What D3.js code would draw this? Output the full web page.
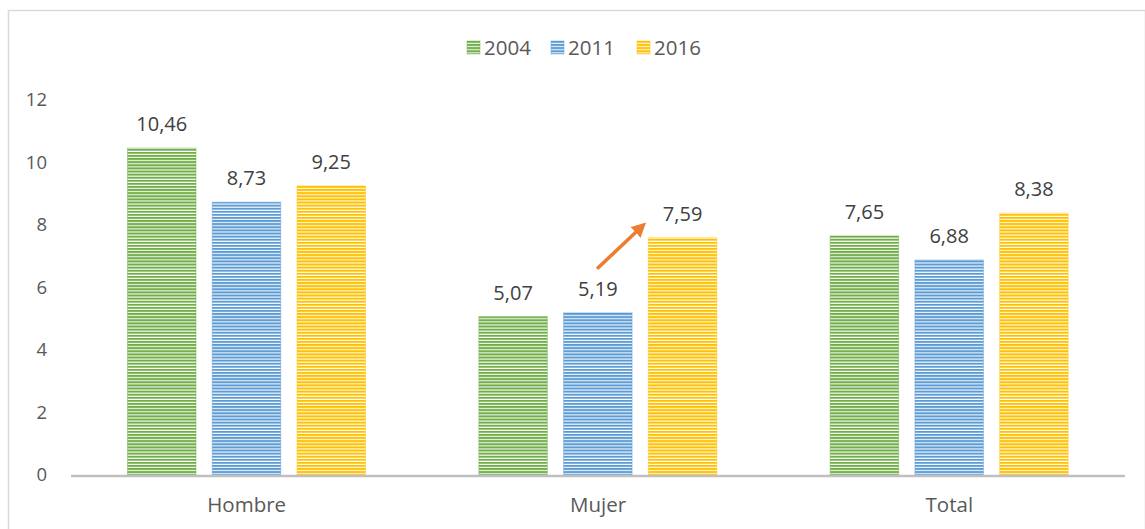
<!DOCTYPE html>
<html>
<head>
<meta charset="utf-8">
<script src="https://cdn.jsdelivr.net/npm/d3@7"></script>
<style>
  body { margin: 0; background: #fff; }
  text { font-family: "Open Sans", sans-serif; }
</style>
</head>
<body>
<div id="chart"></div>
<script>
// data
const categories = ["Hombre", "Mujer", "Total"];
const years = ["2004", "2011", "2016"];
const values2004 = [10.46, 5.07, 7.65];
const values2011 = [8.73, 5.19, 6.88];
const values2016 = [9.25, 7.59, 8.38];
const yTicks = [0, 2, 4, 6, 8, 10, 12];
const colors = ["#70ad47", "#5b9bd5", "#ffc000"];

const series = [values2004, values2011, values2016];

const width = 1145, height = 529;
const margin = { top: 100, right: 20, bottom: 54, left: 71 };

const svg = d3.select("#chart").append("svg")
    .attr("width", width)
    .attr("height", height);

// frame
svg.append("rect")
    .attr("x", 8.5).attr("y", 10.5)
    .attr("width", width - 8).attr("height", height)
    .attr("fill", "none")
    .attr("stroke", "#d9d9d9")
    .attr("stroke-width", 1.5);

// stripe patterns
const defs = svg.append("defs");
colors.forEach(function(c, i) {
    let p = defs.append("pattern")
        .attr("id", "stripe" + i)
        .attr("patternUnits", "userSpaceOnUse")
        .attr("width", 6).attr("height", 3.1);
    p.append("rect").attr("width", 6).attr("height", 3.1).attr("fill", "#fff");
    p.append("rect").attr("width", 6).attr("height", 2).attr("fill", c);
});

const x = d3.scaleBand().domain(categories).range([margin.left, 1125]);
const xInner = d3.scaleBand().domain(years).range([56, 295]).paddingInner(0.18);
const y = d3.scaleLinear().domain([0, 12]).range([475, 100]);

// y labels
svg.append("g").selectAll("text")
    .data(yTicks)
    .enter().append("text")
    .attr("x", 47)
    .attr("y", function(d) { return y(d); })
    .attr("dy", "0.35em")
    .attr("text-anchor", "end")
    .attr("fill", "#595959")
    .style("font-size", "18.5px")
    .text(function(d) { return d; });

// bars
const groups = svg.append("g").selectAll("g")
    .data(categories)
    .enter().append("g")
    .attr("transform", function(d) { return "translate(" + x(d) + ",0)"; });

years.forEach(function(yr, i) {
    groups.append("rect")
        .attr("x", xInner(yr) + 0.5)
        .attr("y", function(d, j) { return y(series[i][j]); })
        .attr("width", xInner.bandwidth() - 1)
        .attr("height", function(d, j) { return y(0) - y(series[i][j]); })
        .attr("fill", "url(#stripe" + i + ")")
        .attr("stroke", colors[i])
        .attr("stroke-opacity", 0.45)
        .attr("stroke-width", 1);

    groups.append("text")
        .attr("x", xInner(yr) + xInner.bandwidth() / 2)
        .attr("y", function(d, j) { return y(series[i][j]) - 17; })
        .attr("text-anchor", "middle")
        .attr("fill", "#404040")
        .style("font-size", "20px")
        .text(function(d, j) { return series[i][j].toFixed(2).replace(".", ","); });
});

// x axis line
svg.append("line")
    .attr("x1", margin.left).attr("x2", 1125)
    .attr("y1", y(0) + 1).attr("y2", y(0) + 1)
    .attr("stroke", "#bfbfbf")
    .attr("stroke-width", 2.5);

svg.append("g").selectAll("text")
    .data(categories)
    .enter().append("text")
    .attr("x", function(d) { return x(d) + x.bandwidth() / 2; })
    .attr("y", 512)
    .attr("text-anchor", "middle")
    .attr("fill", "#595959")
    .style("font-size", "20.5px")
    .text(function(d) { return d; });

// arrow Mujer 2011 -> 2016
defs.append("marker")
    .attr("id", "arrowHead")
    .attr("viewBox", "0 0 10 10")
    .attr("refX", 5).attr("refY", 5)
    .attr("markerWidth", 4).attr("markerHeight", 4)
    .attr("orient", "auto")
    .append("path")
    .attr("d", "M0,0L10,5L0,10z")
    .attr("fill", "#ed7d31");

svg.append("line")
    .attr("x1", x("Mujer") + xInner("2011") + 34)
    .attr("y1", y(6.6))
    .attr("x2", x("Mujer") + xInner("2016") - 7)
    .attr("y2", y(7.92))
    .attr("stroke", "#ed7d31")
    .attr("stroke-width", 3.6)
    .attr("marker-end", "url(#arrowHead)");

// legend
const legendX = [467, 551, 637];
const legend = svg.append("g").selectAll("g")
    .data(years)
    .enter().append("g")
    .attr("transform", function(d, i) { return "translate(" + legendX[i] + ",41)"; });

legend.append("rect")
    .attr("width", 13).attr("height", 13)
    .attr("fill", function(d, i) { return "url(#stripe" + i + ")"; })
    .attr("stroke", function(d, i) { return colors[i]; })
    .attr("stroke-opacity", 0.45);

legend.append("text")
    .attr("x", 17).attr("y", 7)
    .attr("dy", "0.35em")
    .attr("fill", "#595959")
    .style("font-size", "20.5px")
    .text(function(d) { return d; });
</script>
</body>
</html>
